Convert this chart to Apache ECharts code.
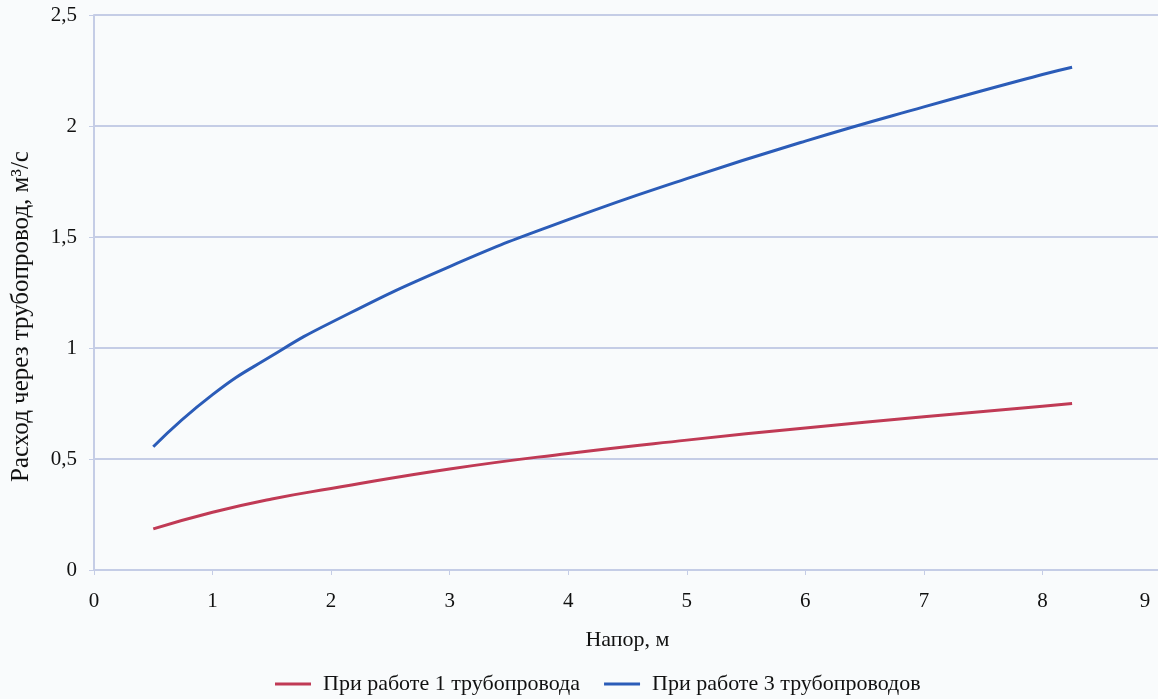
<!DOCTYPE html>
<html><head><meta charset="utf-8">
<script src="https://cdn.jsdelivr.net/npm/echarts@6/dist/echarts.min.js"></script>
<style>html,body{margin:0;padding:0;background:#f9fbfc;}#c{width:1158px;height:699px;}</style>
</head><body><div id="c"></div>
<script>
const headValues = [0.5, 1, 1.5, 2, 3, 4, 5, 6, 7, 8, 8.25];
const flowOne = [0.185, 0.26, 0.32, 0.367, 0.455, 0.525, 0.585, 0.64, 0.69, 0.738, 0.75];
const flowThree = [0.555, 0.79, 0.965, 1.115, 1.367, 1.578, 1.763, 1.932, 2.086, 2.232, 2.265];
const seriesNames = ['При работе 1 трубопровода', 'При работе 3 трубопроводов'];
const xTicks = [0,1,2,3,4,5,6,7,8,9];
const yTicks = [0,0.5,1,1.5,2,2.5];

const font = 'Liberation Serif';
const chart = echarts.init(document.getElementById('c'));
chart.setOption({
  backgroundColor: '#f9fbfc',
  animation: false,
  grid: {left: 94, right: -3, top: 15, bottom: 129, containLabel: false, outerBoundsMode: 'none'},
  xAxis: {
    type: 'value', min: xTicks[0], max: xTicks[xTicks.length - 1], interval: 1,
    name: 'Напор, м', nameLocation: 'middle', nameGap: 59,
    nameTextStyle: {fontFamily: font, fontSize: 22, color: '#111'},
    axisLine: {show: true, lineStyle: {color: '#c5cde6', width: 2}},
    axisTick: {show: true, length: 5, inside: false, lineStyle: {color: '#c5cde6'}},
    splitLine: {show: false},
    axisLabel: {fontFamily: font, fontSize: 21, color: '#111', margin: 21,
      formatter: v => v === 9 ? '{m|9}' : String(v),
      rich: {m: {fontFamily: font, fontSize: 21, color: '#111', padding: [0, 32, 0, 0]}}}
  },
  yAxis: {
    type: 'value', min: yTicks[0], max: yTicks[yTicks.length - 1], interval: 0.5,
    name: 'Расход через трубопровод, м³/с', nameLocation: 'middle', nameGap: 60, nameRotate: 90,
    nameTextStyle: {fontFamily: font, fontSize: 25, color: '#111', padding: [0, 48, 0, 0]},
    axisLine: {show: true, lineStyle: {color: '#c5cde6', width: 2}},
    axisTick: {show: true, length: 5, lineStyle: {color: '#c5cde6'}},
    splitLine: {show: true, lineStyle: {color: '#c5cde6', width: 2}},
    axisLabel: {fontFamily: font, fontSize: 21, color: '#111', margin: 17,
      formatter: v => String(v).replace('.', ',')}
  },
  legend: {
    top: 673, left: 275, itemWidth: 36, itemHeight: 3, itemGap: 24,
    icon: 'rect', padding: 0,
    textStyle: {fontFamily: font, fontSize: 22, color: '#111', padding: [0, 0, 0, 7]},
    data: seriesNames
  },
  series: [
    {name: seriesNames[0], type: 'line', smooth: true, showSymbol: false,
     lineStyle: {color: '#c03a55', width: 3}, itemStyle: {color: '#c03a55'},
     data: headValues.map((h, i) => [h, flowOne[i]])},
    {name: seriesNames[1], type: 'line', smooth: true, showSymbol: false,
     lineStyle: {color: '#2b5cb8', width: 3}, itemStyle: {color: '#2b5cb8'},
     data: headValues.map((h, i) => [h, flowThree[i]])}
  ]
});
</script></body></html>
